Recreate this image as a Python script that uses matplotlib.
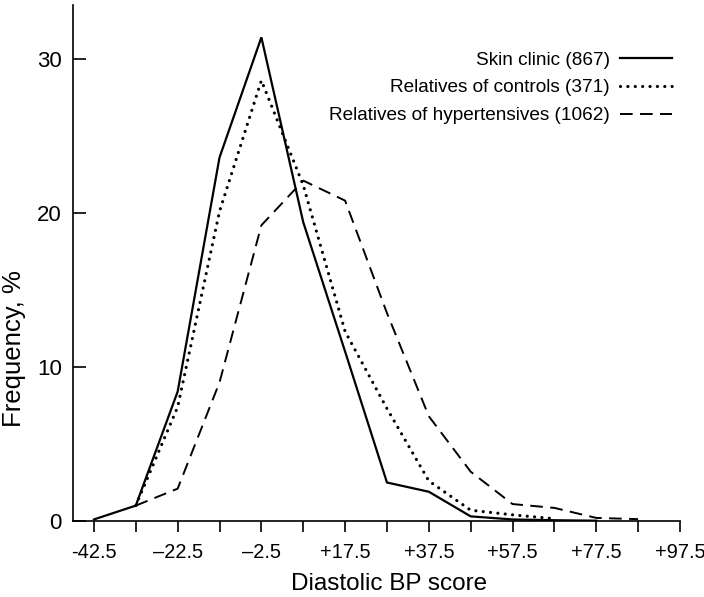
import matplotlib
matplotlib.use("Agg")
import matplotlib.pyplot as plt

plt.rcParams['font.family'] = ['Liberation Sans', 'DejaVu Sans']

# Data
x_skin = [-42.5, -32.5, -22.5, -12.5, -2.5, 7.5, 17.5, 27.5, 37.5, 47.5, 57.5, 67.5, 77.5]
y_skin = [0.1, 1.0, 8.4, 23.6, 31.4, 19.4, 11.0, 2.5, 1.9, 0.3, 0.1, 0.05, 0.02]

x_ctrl = [-32.5, -22.5, -12.5, -2.5, 7.5, 17.5, 27.5, 37.5, 47.5, 57.5, 67.5]
y_ctrl = [1.0, 7.4, 20.1, 28.6, 21.8, 12.3, 7.3, 2.6, 0.7, 0.4, 0.15]

x_hyp = [-32.5, -22.5, -12.5, -2.5, 7.5, 17.5, 27.5, 37.5, 47.5, 57.5, 67.5, 77.5, 87.5]
y_hyp = [1.0, 2.1, 9.0, 19.2, 22.1, 20.8, 13.5, 6.8, 3.2, 1.1, 0.85, 0.2, 0.12]

labels = ['Skin clinic (867)', 'Relatives of controls (371)', 'Relatives of hypertensives (1062)']

xticks = [-42.5, -32.5, -22.5, -12.5, -2.5, 7.5, 17.5, 27.5, 37.5, 47.5, 57.5, 67.5, 77.5, 87.5, 97.5]
xticklabels = ['-42.5', '', '\u201322.5', '', '\u20132.5', '', '+17.5', '', '+37.5', '', '+57.5', '', '+77.5', '', '+97.5']
yticks = [0, 10, 20, 30]

fig = plt.figure(figsize=(7.04, 5.97), dpi=100)
ax = fig.add_axes([73/704, 76/597, (680-73)/704, (521-5)/597])

ax.plot(x_skin, y_skin, color='black', lw=1.6, solid_joinstyle='miter', label=labels[0])
ax.plot(x_ctrl, y_ctrl, color='black', lw=2.3, linestyle=(0, (0.01, 2.3)),
        dash_capstyle='round', label=labels[1])
ax.plot(x_hyp, y_hyp, color='black', lw=1.4, linestyle=(0, (6.5, 3.8)), label=labels[2])

ax.set_xlim(-47.5, 97.5)
ax.set_ylim(0, 33.5)

for s in ['top', 'right']:
    ax.spines[s].set_visible(False)
for s in ['left', 'bottom']:
    ax.spines[s].set_linewidth(1.2)

ax.set_xticks(xticks)
ax.set_xticklabels(xticklabels)
ax.set_yticks(yticks)
ax.tick_params(axis='x', direction='out', length=8, width=1.2, labelsize=14.4, pad=8)
ax.tick_params(axis='y', direction='in', length=9, width=1.2, labelsize=16, pad=8)

ax.set_xlabel('Diastolic BP score', fontsize=17.5)
ax.xaxis.set_label_coords(0.52, -0.1)
ax.set_ylabel('Frequency, %', fontsize=18.5)
ax.yaxis.set_label_coords(-0.077, 0.335)

leg = ax.legend(loc='upper right', bbox_to_anchor=(1.0, 0.925), frameon=False,
                markerfirst=False, fontsize=13.7, handlelength=2.75, handletextpad=0.55,
                labelspacing=0.55, borderaxespad=0.0)
for t in leg.get_texts():
    t.set_ha('right')

fig.savefig('out.png', dpi=100)
